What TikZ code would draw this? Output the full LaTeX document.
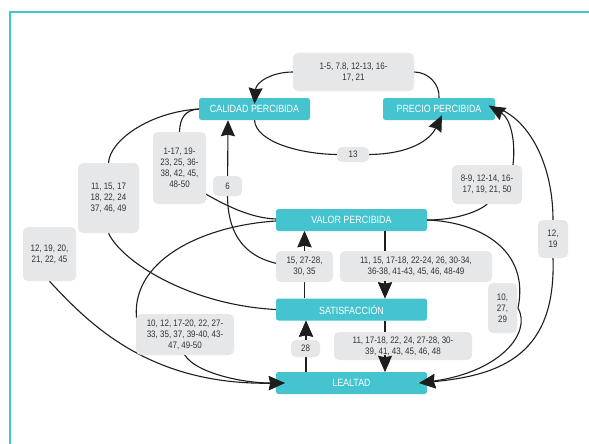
\documentclass[tikz,border=0pt]{standalone}
\usepackage{fontspec}
\setmainfont{Liberation Sans}[FakeStretch=0.85]
\usetikzlibrary{arrows.meta}
\definecolor{tealc}{HTML}{45C3CE}
\definecolor{grayc}{HTML}{E6E7E8}
\definecolor{txtc}{HTML}{333333}
\definecolor{linec}{HTML}{1E1E1E}
\pgfdeclarelayer{edges}
\pgfdeclarelayer{labels}
\pgfdeclarelayer{tips}
\pgfsetlayers{main,edges,labels,tips}
\tikzset{
  conc/.style={fill=tealc, rounded corners=2.5pt, text=white, font=\fontsize{10.5}{12}\selectfont, inner sep=0pt, minimum height=22pt},
  lab/.style={fill=grayc, rounded corners=5pt, text=txtc, font=\fontsize{9.4}{11}\selectfont, align=center, inner sep=0pt},
  link/.style={draw=linec, line width=1.1pt},
  arr/.style={link, -{Stealth[length=16pt,width=14pt,inset=1.5pt]}},
}
\begin{document}
\begin{tikzpicture}[x=1pt,y=-1pt]
\useasboundingbox (0,0) rectangle (589,444);
\fill[white] (0,0) rectangle (589,444);
\draw[tealc, line width=2pt] (589,12) -- (9.5,12) -- (9.5,444);

% concept boxes
\node[conc, minimum width=111pt] (cal) at (254.5,109) {CALIDAD PERCIBIDA};
\node[conc, minimum width=112pt] (pre) at (439,109) {PRECIO PERCIBIDA};
\node[conc, minimum width=151pt] (val) at (351.5,220) {VALOR PERCIBIDA};
\node[conc, minimum width=151pt] (sat) at (351.5,309.5) {SATISFACCIÓN};
\node[conc, minimum width=151pt] (lea) at (351.5,383) {LEALTAD};

% labels
\begin{pgfonlayer}{labels}
\node[lab, minimum width=121pt, minimum height=38pt] (l1) at (353.5,72) {1-5, 7.8, 12-13, 16-\\17, 21};
\node[lab, minimum width=32pt, minimum height=15pt] (l13) at (353,154.5) {13};
\node[lab, minimum width=70pt, minimum height=39pt] (l89) at (487,184.5) {8-9, 12-14, 16-\\17, 19, 21, 50};
\node[lab, minimum width=30pt, minimum height=38pt] (l1219) at (553,239) {12,\\19};
\node[lab, minimum width=29pt, minimum height=50pt] (l102729) at (502.5,308) {10,\\27,\\29};
\node[lab, minimum width=152pt, minimum height=31pt] (lvs) at (416,266.5) {11, 15, 17-18, 22-24, 26, 30-34,\\36-38, 41-43, 45, 46, 48-49};
\node[lab, minimum width=57pt, minimum height=31pt] (lsv) at (304.5,266.5) {15, 27-28,\\30, 35};
\node[lab, minimum width=138pt, minimum height=28pt] (lsl) at (403,346) {11, 17-18, 22, 24, 27-28, 30-\\39, 41, 43, 45, 46, 48};
\node[lab, minimum width=29pt, minimum height=17pt] (l28) at (305.5,348.5) {28};
\node[lab, minimum width=98pt, minimum height=41pt] (lvl) at (185,334.5) {10, 12, 17-20, 22, 27-\\33, 35, 37, 39-40, 43-\\47, 49-50};
\node[lab, minimum width=53pt, minimum height=54pt] (lleft) at (49.5,254) {12, 19, 20,\\21, 22, 45};
\node[lab, minimum width=61pt, minimum height=70pt] (lcs) at (108.5,198) {11, 15, 17\\18, 22, 24\\37, 46, 49};
\node[lab, minimum width=53pt, minimum height=72pt] (lcv) at (179.5,168) {1-17, 19-\\23, 25, 36-\\38, 42, 45,\\48-50};
\node[lab, minimum width=29pt, minimum height=20pt] (l6) at (227.5,186) {6};
\end{pgfonlayer}

% connectors
\begin{pgfonlayer}{edges}
\draw[arr] (pre.north) .. controls (440,84) and (428,72) .. (l1.east) -- (l1.west) .. controls (272,72) and (256,82) .. ([yshift=-6pt]cal.north);
\draw[arr] (cal.south) .. controls (256,142) and (300,154) .. (l13.west) -- (l13.east) .. controls (410,154) and (430,140) .. ([xshift=3pt,yshift=5pt]pre.south);
\draw[arr] (lsv.center) .. controls (255,266) and (228,245) .. (l6.south) -- ([xshift=-26.5pt]cal.south);
\draw[link] (cal.west) .. controls (150,112) and (110,140) .. (lcs.north);
\draw[link] (lcs.south) .. controls (122,262) and (190,305) .. (sat.west);
\draw[link] (cal.west) .. controls (185,110) and (180,118) .. (lcv.north);
\draw[link] ([xshift=-2pt,yshift=11pt]lcv.south east) .. controls (225,205) and (250,218) .. ([yshift=1pt]val.west);
\draw[arr] ([yshift=-1pt]val.west) .. controls (200,226) and (128,262) .. (137,322) -- (lvl.south) .. controls (195,372) and (240,383) .. ([xshift=9pt]lea.west);
\draw[arr] (lleft.south) .. controls (90,325) and (150,385) .. ([xshift=9pt]lea.west);
\draw[arr] (val.east) .. controls (455,220) and (478,212) .. (l89.south) -- ([xshift=26pt]l89.north) .. controls (516,140) and (510,118) .. ([xshift=-6pt,yshift=3pt]pre.east);
\draw[arr] ([xshift=-6pt,yshift=3pt]pre.east) .. controls (525,112) and (553,160) .. (l1219.north) -- (l1219.south) .. controls (556,352) and (505,375) .. ([xshift=-8pt]lea.east);
\draw[arr] (val.east) .. controls (480,222) and (530,250) .. (518,308) .. controls (532,333) and (500,372) .. ([xshift=-8pt]lea.east);
\draw[arr] ([xshift=33.5pt]val.south) -- ([xshift=33.5pt]sat.north);
\draw[arr] ([xshift=-47pt]sat.north) -- ([xshift=-47pt]val.south);
\draw[arr] ([xshift=33.5pt]sat.south) -- ([xshift=33.5pt]lea.north);
\draw[arr] ([xshift=-45.5pt]lea.north) -- ([xshift=-45.5pt]sat.south);
\end{pgfonlayer}

% arrow tips above labels
\begin{pgfonlayer}{tips}
\draw[arr] ([xshift=33.5pt,yshift=17pt]lea.north) -- ([xshift=33.5pt]lea.north);
\draw[arr] ([xshift=-45.5pt,yshift=-17pt]sat.south) -- ([xshift=-45.5pt]sat.south);
\draw[arr] ([xshift=-47pt,yshift=-17pt]val.south) -- ([xshift=-47pt]val.south);
\draw[arr] ([xshift=33.5pt,yshift=17pt]sat.north) -- ([xshift=33.5pt]sat.north);
\end{pgfonlayer}
\end{tikzpicture}
\end{document}
